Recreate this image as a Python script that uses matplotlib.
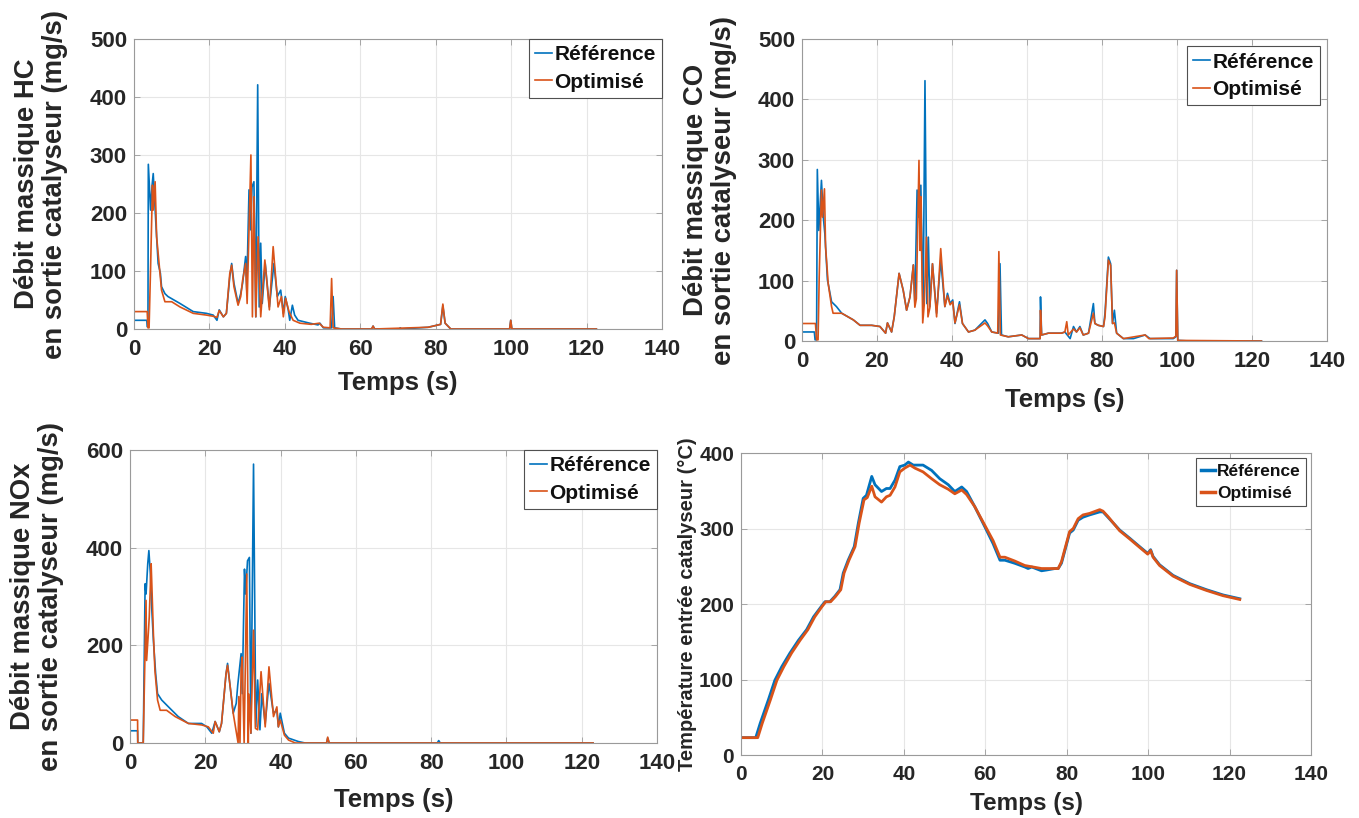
import matplotlib
matplotlib.use("Agg")
import matplotlib.pyplot as plt
from matplotlib import font_manager

# ---------------- data ----------------
hc_ref_t = [0, 3.4, 3.5, 3.7, 3.8, 4.4, 4.8, 5.1, 5.8, 6.4, 7.0, 7.3, 8.2, 9.0, 12.2, 15.7, 19.2, 21.0, 22.0, 22.6, 23.7, 24.5,
            25.4, 25.9, 26.5, 27.6, 28.3, 28.8, 29.6, 29.9, 30.5, 30.9, 31.3, 31.8, 32.3, 32.8, 33.2, 33.6, 34.0, 34.8, 35.9,
            37.1, 38.0, 38.9, 39.6, 40.1, 40.9, 41.3, 42.0, 42.6, 43.5, 46.6, 48.8, 49.3, 50.2, 52.4, 52.8, 53.2, 55, 63.0,
            63.4, 63.8, 70.3, 70.6, 70.9, 78, 80, 81.3, 81.9, 82.5, 84, 99.6, 99.9, 100.2, 122.6]
hc_ref_v = [15, 15, 4, 4, 284, 205, 248, 268, 182, 113, 96, 73, 61, 56, 44, 30, 27, 24, 15, 33, 21, 27,
            90, 113, 79, 44, 61, 79, 125, 67, 240, 171, 245, 254, 21, 421, 38, 148, 44, 113, 38,
            113, 56, 67, 27, 56, 33, 15, 41, 24, 15, 10, 7, 10, 2, 2, 56, 2, 0, 0,
            5, 0, 0, 2, 0, 3, 6, 8, 40, 10, 0, 0, 15, 0, 0]
hc_opt_t = [0, 3.5, 3.7, 4.0, 4.4, 4.9, 5.1, 5.6, 6.0, 7.3, 8.2, 10.0, 12.2, 15.7, 19.2, 21.0, 22.0, 22.6, 23.7, 24.5,
            25.4, 25.9, 26.5, 27.6, 28.3, 28.8, 29.6, 30.0, 31.0, 31.4, 31.8, 32.3, 32.9, 33.6, 34.7, 35.9, 36.9, 38.2,
            39.1, 39.6, 40.2, 41.1, 42.2, 44.0, 47.0, 49.1, 50.2, 52.0, 52.4, 52.8, 55, 63.0, 63.4, 63.8, 78, 80, 81.3,
            81.9, 82.5, 84, 99.6, 99.9, 100.2, 122.6]
hc_opt_v = [30, 30, 2, 2, 107, 248, 205, 254, 159, 67, 47, 47, 38, 27, 24, 22, 20, 32, 21, 27,
            96, 110, 73, 41, 56, 84, 113, 44, 300, 21, 228, 21, 159, 21, 119, 33, 142, 38,
            56, 21, 53, 30, 15, 10, 8, 10, 3, 2, 87, 2, 0, 0, 5, 0, 3, 6, 8,
            43, 10, 0, 0, 15, 0, 0]

co_ref_t = [0, 3.3, 3.5, 3.9, 4.1, 4.5, 5.2, 5.7, 6.1, 6.8, 7.0, 7.9, 9.2, 10.6, 13.7, 15.5, 18.6, 20.8, 22.3, 22.8,
            23.9, 24.6, 25.9, 27.0, 27.9, 28.8, 29.7, 30.1, 30.7, 31.1, 31.7, 32.3, 32.8, 33.3, 33.7, 34.1, 34.8, 35.9,
            37.0, 38.1, 38.8, 39.5, 40.2, 40.8, 42.0, 42.8, 44.4, 46.1, 48.8, 49.5, 50.6, 52.4, 52.8, 53.2, 55.0, 58.6,
            60.4, 63.5, 63.6, 63.9, 65.7, 69.2, 70.1, 71.5, 72.4, 73.2, 74.1, 75.0, 76.4, 77.7, 78.1, 79.0, 80.4, 80.8,
            81.7, 82.3, 82.8, 83.3, 83.9, 85.7, 88.4, 91.5, 92.8, 99.0, 99.7, 99.9, 100.2, 103.5, 122.5]
co_ref_v = [15, 15, 2, 2, 284, 183, 266, 205, 178, 101, 95, 65, 57, 46, 35, 26, 26, 24, 13, 30,
            15, 40, 112, 84, 51, 73, 126, 62, 250, 205, 258, 46, 431, 62, 172, 57, 128, 46,
            134, 57, 79, 62, 68, 29, 65, 29, 15, 18, 35, 29, 15, 13, 128, 10, 7, 10,
            4, 4, 73, 10, 13, 13, 15, 4, 24, 15, 24, 10, 13, 62, 29, 26, 24, 46,
            139, 128, 29, 51, 13, 4, 4, 10, 4, 4, 7, 117, 1, 0, 0]
co_opt_t = [0, 3.6, 3.9, 4.3, 4.6, 5.2, 5.5, 6.0, 6.3, 7.0, 7.9, 8.3, 10.6, 13.7, 15.5, 18.6, 20.8, 22.3, 22.8,
            23.9, 24.6, 25.9, 27.0, 27.9, 28.8, 29.7, 30.1, 30.5, 31.2, 31.5, 31.7, 32.2, 32.6, 33.2, 33.6, 34.1, 34.8,
            35.9, 37.0, 38.1, 38.8, 39.5, 40.2, 40.8, 42.0, 42.8, 44.4, 46.1, 48.8, 49.5, 50.6, 52.2, 52.5, 52.9, 55.0,
            58.6, 60.4, 63.5, 63.6, 63.9, 65.7, 69.2, 70.1, 70.6, 71.0, 72.4, 73.2, 74.1, 75.0, 76.4, 77.7, 78.1, 79.0,
            80.4, 80.8, 81.7, 82.3, 82.8, 83.3, 83.9, 85.7, 91.5, 92.5, 99.0, 99.7, 99.9, 100.2, 122.5]
co_opt_v = [29, 29, 2, 2, 106, 250, 205, 252, 156, 95, 57, 46, 46, 35, 26, 26, 24, 13, 30,
            15, 40, 112, 84, 51, 73, 126, 56, 70, 299, 150, 239, 30, 60, 172, 40, 55, 128,
            40, 153, 57, 75, 60, 65, 30, 60, 29, 15, 18, 30, 25, 15, 13, 148, 10, 7,
            10, 4, 4, 51, 10, 13, 13, 15, 32, 10, 20, 15, 22, 10, 13, 46, 29, 26,
            24, 40, 134, 125, 29, 30, 13, 4, 10, 4, 5, 8, 117, 1, 0]

nox_ref_t = [0, 2.0, 2.05, 3.5, 4.0, 4.25, 4.7, 5.0, 5.4, 5.75, 6.2, 6.8, 7.3, 8.4, 10.2, 12.8, 15.5, 19.0, 20.4, 21.7,
             22.6, 23.7, 24.3, 25.5, 25.9, 26.6, 27.4, 28.2, 28.6, 29.5, 29.8, 30.4, 30.7, 31.2, 31.7, 32.1, 32.8, 33.4,
             33.9, 34.5, 35.0, 35.9, 36.9, 38.1, 39.0, 39.4, 39.9, 41.0, 42.1, 44.7, 46.5, 52.2, 52.5, 52.9, 81.6, 82.0,
             82.4, 123]
nox_ref_v = [25, 25, 0, 0, 326, 305, 367, 394, 346, 278, 210, 142, 101, 88, 74, 54, 40, 40, 33, 20,
             44, 23, 40, 142, 163, 115, 61, 81, 118, 183, 101, 356, 305, 373, 380, 20, 571, 33,
             129, 27, 101, 40, 122, 61, 67, 33, 61, 20, 10, 3, 0, 0, 10, 0, 0, 5,
             0, 0]
nox_opt_t = [0, 2.0, 2.05, 3.5, 4.25, 4.4, 4.9, 5.1, 5.6, 5.75, 6.2, 6.6, 7.3, 8.0, 9.7, 12.0, 15.5, 19.0, 20.8, 22.1,
             22.6, 23.7, 24.3, 25.5, 25.9, 26.6, 27.4, 28.7, 28.9, 29.2, 29.5, 29.8, 30.3, 31.0, 31.4, 31.6, 32.1, 32.8,
             33.3, 33.9, 34.8, 35.9, 36.9, 38.1, 39.0, 39.4, 39.9, 41.0, 42.1, 43.9, 52.2, 52.5, 52.9, 123]
nox_opt_v = [47, 47, 0, 0, 292, 169, 231, 258, 367, 333, 224, 149, 88, 67, 67, 54, 40, 37, 33, 20,
             44, 23, 40, 142, 159, 115, 61, 0, 95, 0, 150, 176, 0, 346, 0, 100, 20, 231,
             30, 27, 146, 33, 156, 54, 74, 33, 47, 16, 6, 0, 0, 12, 0, 0]

temp_ref_t = [0, 3.6, 4.7, 6.7, 8.3, 10, 12, 14.1, 16.1, 17.8, 19.6, 20.6, 21.8, 23, 24.3, 25.1, 26.3, 27.8, 28.8, 30,
              30.8, 32.1, 32.9, 34.5, 35.7, 36.6, 37.8, 39, 40.2, 41.1, 42.3, 44.7, 46.8, 48.8, 50.9, 52.5, 54.2, 55.4,
              57.4, 59.9, 61.9, 63.6, 64.8, 67.2, 69.7, 70.5, 71.4, 73.8, 75, 77.1, 77.9, 78.7, 80.7, 81.6, 82.8, 84,
              85.6, 88.1, 88.9, 90.1, 93, 95.5, 97.9, 99.9, 100.6, 101.2, 102.8, 106.1, 110.2, 114.3, 118.4, 122.5]
temp_ref_v = [23, 23, 42, 73, 99, 117, 135, 152, 166, 183, 196, 203, 203, 210, 219, 241, 258, 276, 307, 340,
              344, 369, 358, 349, 353, 353, 364, 382, 384, 388, 384, 384, 377, 366, 358, 349, 355, 349,
              329, 302, 280, 258, 258, 254, 249, 247, 249, 244, 245, 247, 247, 254, 294, 298, 311, 315,
              318, 322, 322, 315, 298, 287, 276, 267, 272, 263, 252, 238, 227, 219, 212, 207]
temp_opt_t = [0, 4.1, 5.2, 7.2, 8.8, 10.5, 12.4, 14.5, 16.4, 18.1, 19.8, 20.8, 22, 23.2, 24.5, 25.3, 26.5, 28, 29, 30.2,
              31, 32.1, 32.9, 34.5, 35.7, 36.6, 37.8, 39, 40.2, 41.5, 42.7, 44.7, 46.8, 48.8, 50.9, 52.5, 54.2, 55.4,
              57.4, 59.9, 61.9, 63.6, 64.8, 67.2, 69.7, 73.8, 77.1, 77.9, 78.7, 80.7, 81.6, 82.8, 84, 85.6, 88.1, 88.9,
              90.1, 93, 95.5, 97.9, 99.9, 100.6, 101.2, 102.8, 106.1, 110.2, 114.3, 118.4, 122.5]
temp_opt_v = [23, 23, 42, 73, 99, 117, 135, 152, 166, 183, 196, 203, 203, 210, 219, 241, 258, 276, 307, 338,
              341, 356, 342, 335, 342, 344, 355, 375, 380, 384, 380, 375, 366, 358, 352, 346, 351, 345,
              329, 304, 284, 262, 262, 257, 251, 247, 247, 247, 256, 296, 300, 313, 318, 320, 325, 323,
              316, 297, 286, 275, 266, 271, 262, 251, 237, 226, 218, 211, 206]

x_ticks = [0, 20, 40, 60, 80, 100, 120, 140]
series_names = ["Référence", "Optimisé"]
ylabel_hc = "Débit massique HC\nen sortie catalyseur (mg/s)"
ylabel_co = "Débit massique CO\nen sortie catalyseur (mg/s)"
ylabel_nox = "Débit massique NOx\nen sortie catalyseur (mg/s)"
ylabel_temp = "Température entrée catalyseur (°C)"
xlabel = "Temps (s)"

# ---------------- style ----------------
names = {f.name for f in font_manager.fontManager.ttflist}
BASE = "Liberation Sans" if "Liberation Sans" in names else "DejaVu Sans"
plt.rcParams["font.family"] = [BASE, "DejaVu Sans"]

BLUE = "#0072BD"
ORANGE = "#D95319"
TXT = "#262626"
EDGE = "#9a9a9a"
GRID = "#e6e6e6"

fig = plt.figure(figsize=(13.59, 8.18), dpi=100)


def style_axes(ax, ylim, yticks, tick_fs):
    ax.set_xlim(0, 140)
    ax.set_ylim(*ylim)
    ax.set_xticks(x_ticks)
    ax.set_yticks(yticks)
    ax.grid(True, color=GRID, linewidth=0.8)
    ax.set_axisbelow(True)
    for s in ax.spines.values():
        s.set_color(EDGE)
        s.set_linewidth(0.8)
    ax.tick_params(direction="in", length=4, width=0.6, color=EDGE,
                   labelcolor=TXT, labelsize=tick_fs, top=True, right=True)
    ax.tick_params(axis="x", pad=7)
    ax.tick_params(axis="y", pad=5)
    for lab in ax.get_xticklabels() + ax.get_yticklabels():
        lab.set_fontweight("bold")


def add_panel(rect, t1, v1, t2, v2, ylim, yticks, ylab, ylab_fs, ylab_x, xlab_y,
              lw, leg_fs, leg_pad, tick_fs=16, xlab_fs=18.5, leg_lw=None):
    ax = fig.add_axes(rect)
    l1, = ax.plot(t1, v1, color=BLUE, lw=lw)
    l2, = ax.plot(t2, v2, color=ORANGE, lw=lw)
    style_axes(ax, ylim, yticks, tick_fs)
    ax.set_ylabel(ylab, fontsize=ylab_fs, fontweight="bold", color=TXT,
                  va="center", ha="center", linespacing=1.1)
    ax.yaxis.set_label_coords(ylab_x, 0.5)
    ax.set_xlabel(xlabel, fontsize=xlab_fs, fontweight="bold", color=TXT, va="center")
    ax.xaxis.set_label_coords(0.5, xlab_y)
    leg = ax.legend([l1, l2], series_names, loc="upper right", fancybox=False,
                    framealpha=1, edgecolor="#505050", borderaxespad=leg_pad,
                    handlelength=0.8, handletextpad=0.12, borderpad=0.3,
                    labelspacing=0.4, prop={"weight": "bold", "size": leg_fs})
    leg.get_frame().set_linewidth(0.8)
    for lh in leg.get_lines():
        lh.set_linewidth(leg_lw if leg_lw else lw)
    for tx in leg.get_texts():
        tx.set_color("#111111")
    return ax


add_panel([0.0986, 0.5978, 0.3885, 0.3545], hc_ref_t, hc_ref_v, hc_opt_t, hc_opt_v,
          (0, 500), [0, 100, 200, 300, 400, 500], ylabel_hc, 19.8, -0.176, -0.186,
          1.2, 15, 0.0)
add_panel([0.5901, 0.5831, 0.3864, 0.3692], co_ref_t, co_ref_v, co_opt_t, co_opt_v,
          (0, 500), [0, 100, 200, 300, 400, 500], ylabel_co, 19.8, -0.176, -0.195,
          1.2, 15, 0.35)
add_panel([0.0957, 0.0917, 0.3878, 0.3582], nox_ref_t, nox_ref_v, nox_opt_t, nox_opt_v,
          (0, 600), [0, 200, 400, 600], ylabel_nox, 19.8, -0.176, -0.195,
          1.2, 15, 0.0)
add_panel([0.5453, 0.0770, 0.4194, 0.3692], temp_ref_t, temp_ref_v, temp_opt_t, temp_opt_v,
          (0, 400), [0, 100, 200, 300, 400], ylabel_temp, 14.5, -0.094, -0.159,
          2.0, 12.5, 0.3, tick_fs=15, xlab_fs=17.5, leg_lw=2.5)

fig.savefig("out.png", dpi=100)
